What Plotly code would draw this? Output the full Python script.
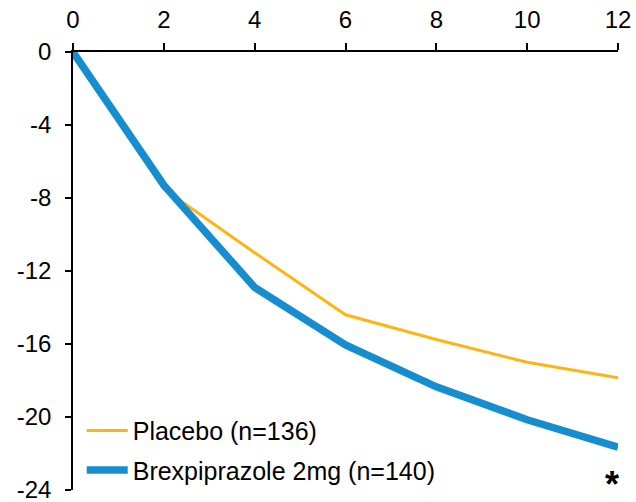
import plotly.graph_objects as go

weeks = [0, 2, 4, 6, 8, 10, 12]
placebo = [0, -7.5, -11.0, -14.4, -15.75, -17.0, -17.85]
brex = [0, -7.3, -12.9, -16.05, -18.35, -20.15, -21.65]
x_ticks = [0, 2, 4, 6, 8, 10, 12]
y_ticks = [0, -4, -8, -12, -16, -20, -24]
y_tick_text = ["0", "-4", "-8", "-12", "-16", "-20", "-24"]

fig = go.Figure()
fig.add_trace(go.Scatter(x=weeks, y=placebo, mode="lines", name="Placebo (n=136)",
                         line=dict(color="#FDB515", width=3), legendgroup="a"))
fig.add_trace(go.Scatter(x=weeks, y=brex, mode="lines", name="Brexpiprazole 2mg (n=140)",
                         line=dict(color="#168DCF", width=7.5), legendgroup="b"))

fig.add_annotation(x=12, y=-23.55, text="<b>*</b>", showarrow=False, xanchor="right",
                   font=dict(size=36, color="black", family="Liberation Sans"),
                   xshift=3, yshift=-3)

fig.update_layout(
    width=636, height=502,
    margin=dict(l=73, r=18, t=52, b=12, autoexpand=False),
    plot_bgcolor="white", paper_bgcolor="white",
    font=dict(family="Liberation Sans, Arial", size=24, color="black"),
    showlegend=True,
    legend=dict(x=0.016, y=-0.006, xanchor="left", yanchor="bottom",
                bgcolor="rgba(0,0,0,0)", tracegroupgap=4,
                font=dict(size=25), itemwidth=41),
    xaxis=dict(range=[0, 12], side="top", tickvals=x_ticks, ticks="outside",
               ticklen=7, tickwidth=1.5, tickcolor="black", showline=True,
               linecolor="black", linewidth=1.5, showgrid=False, zeroline=False,
               automargin=False, ticklabelstandoff=6, ticklabeloverflow="allow"),
    yaxis=dict(range=[-24, 0], tickvals=y_ticks, ticktext=y_tick_text, ticks="outside",
               ticklen=6, tickwidth=1.5, tickcolor="black", showline=True,
               linecolor="black", linewidth=1.5, showgrid=False, zeroline=False,
               automargin=False, ticklabelstandoff=9, ticklabeloverflow="allow"),
)
fig.update_traces(cliponaxis=False)
fig.write_html("out.html", config={"displayModeBar": False},
               post_script="document.body.style.margin='0';document.body.style.overflow='hidden';")
